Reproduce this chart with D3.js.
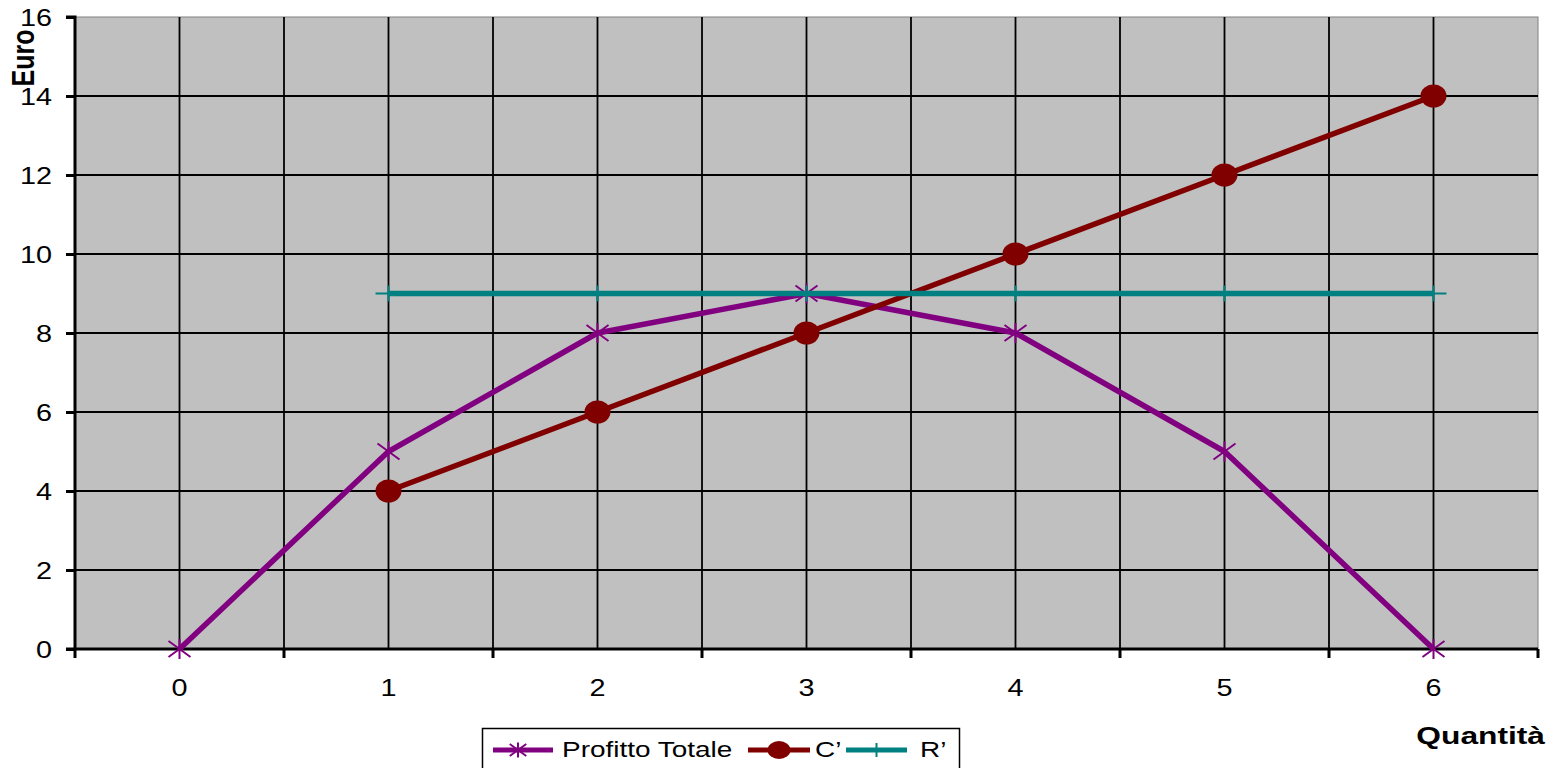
<!DOCTYPE html>
<html><head><meta charset="utf-8">
<script src="https://cdn.jsdelivr.net/npm/d3@7"></script>
<style>body{margin:0;background:#fff}svg{display:block;font-family:"Liberation Sans",Arial,sans-serif}</style>
</head><body><svg id="c" width="1548" height="768"></svg>
<script>
const categories = ["0","1","2","3","4","5","6"];
const profitto = [0,5,8,9,8,5,0];
const cPrime = [null,4,6,8,10,12,14];
const rPrime = [null,9,9,9,9,9,9];
const yTicks = [0,2,4,6,8,10,12,14,16];
const seriesNames = ["Profitto Totale","C\u2019","R\u2019"];

const SX = 1.2; // horizontal stretch of text in reference
const svg = d3.select("#c");
const L=75,R=1538,T=17,B=649;
const x = d3.scaleBand().domain(categories).range([L,R]).paddingInner(0).paddingOuter(0);
const xc = d => x(d)+x.bandwidth()/2;
const y = d3.scaleLinear().domain([0,16]).range([B,T]);

svg.append("rect").attr("x",L).attr("y",T).attr("width",R-L).attr("height",B-T).attr("fill","#c0c0c0").attr("stroke","#808080").attr("stroke-width",1);

const g = svg.append("g");
g.selectAll(".hg").data(yTicks.slice(1,-1)).enter().append("line")
 .attr("x1",L).attr("x2",R).attr("y1",d=>y(d)).attr("y2",d=>y(d)).attr("stroke","#000").attr("stroke-width",1.8);
const vlines = [];
categories.forEach((c,i)=>{ vlines.push(xc(c)); if(i>0) vlines.push(x(c)); });
g.selectAll(".vg").data(vlines).enter().append("line")
 .attr("x1",d=>d).attr("x2",d=>d).attr("y1",T).attr("y2",B).attr("stroke","#000").attr("stroke-width",1.8);

// y axis
const yAxis = d3.axisLeft(y).tickValues(yTicks).tickSize(9).tickFormat("");
const ya = svg.append("g").attr("transform",`translate(${L},0)`).call(yAxis);
ya.select(".domain").attr("stroke-width",3).attr("d",`M-9,${T}H0V${B}`);
ya.selectAll(".tick line").attr("stroke-width",3);
svg.selectAll(".yl").data(yTicks).enter().append("text")
 .attr("transform",d=>`translate(52,${y(d)}) scale(${SX},1)`).attr("dy","0.36em")
 .attr("text-anchor","end").attr("font-size",24).text(d=>d);

// x axis
svg.append("line").attr("x1",L-9).attr("x2",R).attr("y1",B).attr("y2",B).attr("stroke","#000").attr("stroke-width",3);
const bounds = categories.map(c=>x(c)).concat([R]);
svg.selectAll(".xt").data(bounds).enter().append("line")
 .attr("x1",d=>d).attr("x2",d=>d).attr("y1",B).attr("y2",B+9).attr("stroke","#000").attr("stroke-width",3);
svg.selectAll(".xl").data(categories).enter().append("text")
 .attr("transform",d=>`translate(${xc(d)},${B+47}) scale(${SX},1)`).attr("text-anchor","middle").attr("font-size",24).text(d=>d);

// titles
svg.append("text").attr("transform",`translate(34,58) scale(1.25,1) rotate(-90)`).attr("text-anchor","middle")
 .attr("font-size",25).attr("font-weight","bold").text("Euro");
svg.append("text").attr("transform",`translate(1545,744) scale(1.38,1)`).attr("text-anchor","end")
 .attr("font-size",23).attr("font-weight","bold").text("Quantit\u00e0");

// series
const colors = ["#800080","#800000","#008080"];
const allSeries = [profitto,cPrime,rPrime];
const line = d3.line().defined(d=>d.v!==null).x(d=>xc(d.c)).y(d=>y(d.v));

function marker(sel, type, cx, cy, col, k){
  k = k||1;
  if(type===0){
    sel.append("path").attr("d",`M${cx-11*k},${cy-8*k}L${cx+11*k},${cy+8*k}M${cx-11*k},${cy+8*k}L${cx+11*k},${cy-8*k}M${cx},${cy-10*k}V${cy+10*k}`)
      .attr("stroke",col).attr("stroke-width",2).attr("fill","none");
  } else if(type===1){
    sel.append("ellipse").attr("cx",cx).attr("cy",cy).attr("rx",13*k).attr("ry",11.5*k).attr("fill",col);
  } else {
    sel.append("path").attr("d",`M${cx-13*k},${cy}H${cx+13*k}M${cx},${cy-8*k}V${cy+8*k}`).attr("stroke",col).attr("stroke-width",2);
  }
}

allSeries.forEach((vals,si)=>{
  const pts = categories.map((c,i)=>({c,v:vals[i]}));
  svg.append("path").datum(pts).attr("d",line).attr("fill","none").attr("stroke",colors[si]).attr("stroke-width",5.5).attr("stroke-linejoin","round");
  const mg = svg.append("g");
  pts.filter(p=>p.v!==null).forEach(p=>marker(mg,si,xc(p.c),y(p.v),colors[si]));
});

// legend
svg.append("rect").attr("x",482.5).attr("y",728.5).attr("width",477).attr("height",45).attr("fill","#fff").attr("stroke","#000").attr("stroke-width",1.5);
const leg = [{x1:493,x2:553,tx:562},{x1:748,x2:810,tx:815},{x1:846,x2:907,tx:920}];
leg.forEach((l,i)=>{
  const ly = 750;
  const cx = (l.x1+l.x2)/2;
  svg.append("line").attr("x1",l.x1).attr("x2",l.x2).attr("y1",ly).attr("y2",ly).attr("stroke",colors[i]).attr("stroke-width",5);
  const lg = svg.append("g");
  if(i===0) marker(lg,0,cx-5,ly,colors[0],0.75);
  else if(i===1) lg.append("ellipse").attr("cx",cx).attr("cy",ly).attr("rx",11.5).attr("ry",9).attr("fill",colors[1]);
  else lg.append("path").attr("d",`M${cx},${ly-7}V${ly+7}`).attr("stroke",colors[2]).attr("stroke-width",2);
  svg.append("text").attr("transform",`translate(${l.tx},757) scale(1.3,1)`).attr("font-size",21.5).text(seriesNames[i]);
});
</script></body></html>
